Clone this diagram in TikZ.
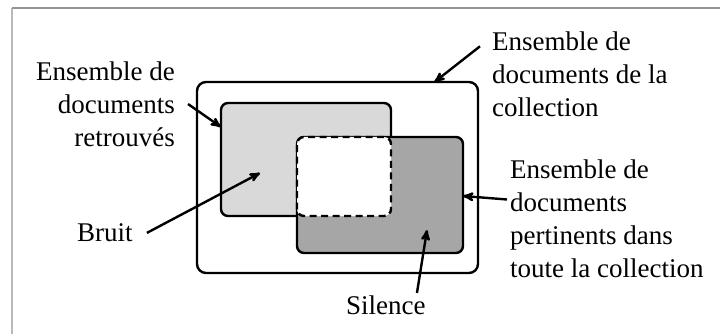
\documentclass[tikz,border=0pt]{standalone}
\usepackage{fontspec}
\setmainfont{Liberation Serif}
\usepackage{tikz}
\usetikzlibrary{arrows}
\usetikzlibrary{calc}
\usetikzlibrary{positioning}
\newcommand\defaultarrowstyle{stealth'}
\tikzset{>=\defaultarrowstyle}
\newcommand\linewd{2.4pt}
\newcommand\framewd{1.5pt}
\definecolor{retrcolour}{HTML}{D9D9D9}
\definecolor{pertcolour}{HTML}{A6A6A6}
\tikzstyle{graph}   = [line width=\linewd]
\tikzstyle{setbox}  = [graph, draw, rectangle, rounded corners=7pt, inner sep=0pt, outer sep=0pt]
\tikzstyle{label}   = [inner sep=0pt, font=\fontsize{27}{33}\selectfont]
\tikzstyle{pointer} = [graph, ->]

\begin{document}
\begin{tikzpicture}[x=1pt, y=-1pt]
  \useasboundingbox (0,0) rectangle (720,334);
  \draw[gray!55, line width=\framewd] (12,8) -- (12,334);
  \draw[gray!85, line width=\framewd] (12,8) -- (720,8);
  % ensembles
  \draw (337.5,177.5) node[setbox, rounded corners=9pt, minimum width=281pt, minimum height=191pt] (coll) {};
  \draw (306,159.5) node[setbox, fill=retrcolour, minimum width=170pt, minimum height=113pt] (retr) {};
  \draw (380,195) node[setbox, fill=pertcolour, minimum width=166pt, minimum height=116pt] (pert) {};
  \draw (344,176.5) node[setbox, fill=white, dash pattern=on 7pt off 4.5pt, minimum width=94pt, minimum height=79pt] (inter) {};
  % textes
  \draw (175,61.3) node[label, anchor=north east, align=right] (lretr) {Ensemble de\\documents\\retrouvés};
  \draw (492,31.3) node[label, anchor=north west, align=left] (lcoll) {Ensemble de\\documents de la\\collection};
  \draw (510,159.3) node[label, anchor=north west, align=left] (lpert) {Ensemble de\\documents\\pertinents dans\\toute la collection};
  \draw (77,241.7) node[label, anchor=base west] (bruit) {Bruit};
  \draw (346,314) node[label, anchor=base west] (silence) {Silence};
  \coordinate (tbruit) at (260,173);
  \coordinate (tsilence) at (427,230);
  % fleches
  \draw[pointer] ([xshift=13pt]lretr.east) -- ([yshift=32.5pt]retr.west);
  \draw[pointer] ([xshift=-12pt,yshift=-15pt]lcoll.north west) -- ([xshift=97pt]coll.north);
  \draw[pointer] ([xshift=-3pt,yshift=19pt]lpert.west) -- ([yshift=-1pt]pert.east);
  \draw[pointer] ([xshift=14pt]bruit.east) -- (tbruit);
  \draw[pointer] ([xshift=31pt,yshift=2pt]silence.north) -- (tsilence);
\end{tikzpicture}
\end{document}
